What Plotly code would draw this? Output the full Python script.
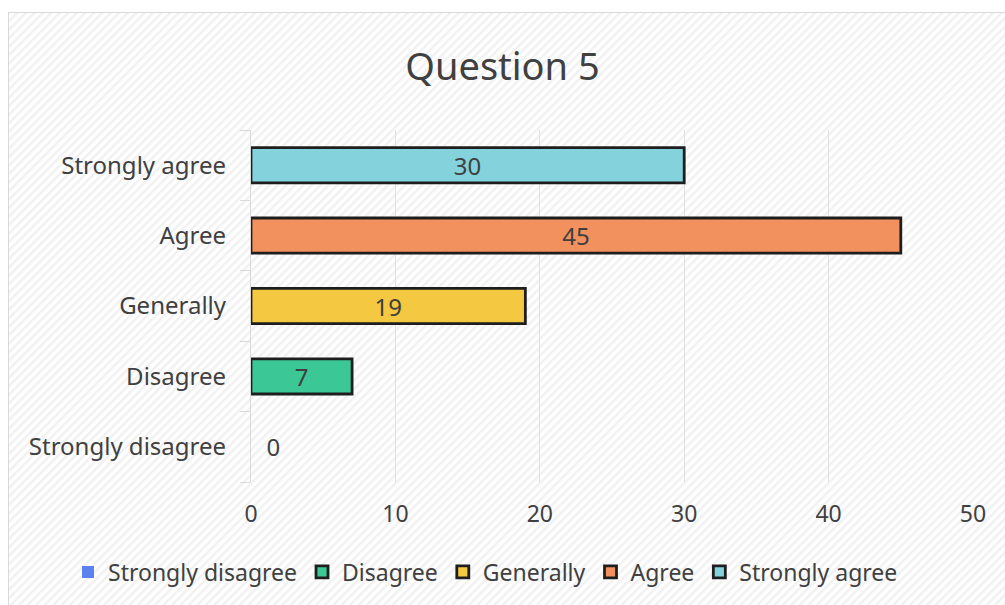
import base64
import plotly.graph_objects as go

categories = ["Strongly disagree", "Disagree", "Generally", "Agree", "Strongly agree"]
values = [0, 7, 19, 45, 30]
colors = ["#5b82ee", "#3cc896", "#f5c842", "#f2915e", "#84d3dc"]
x_ticks = [0, 10, 20, 30, 40, 50]
title_text = "Question 5"

FONT = "Noto Sans"
TXT = "#404040"

W, H = 1005, 605
L, R, T, B = 251, 973, 130, 482
pw, ph = R - L, B - T

def px2x(px):
    return (px - L) / pw

def py2y(py):
    return (B - py) / ph

fig = go.Figure()
for cat, val, col in zip(categories, values, colors):
    fig.add_trace(go.Bar(
        y=[cat], x=[val], name=cat, orientation="h", width=0.5,
        marker=dict(color=col, line=dict(color="#1e1e1e", width=2.8 if val > 0 else 0)),
        texttemplate="%{x}" if val > 0 else "\u00a0\u00a0%{x}",
        textposition="inside" if val > 0 else "outside",
        insidetextanchor="middle", textangle=0,
        textfont=dict(family=FONT, size=24, color=TXT),
        outsidetextfont=dict(family=FONT, size=24, color=TXT),
        cliponaxis=False,
    ))

# hatched background as inline svg
fx0, fy0, fx1, fy1 = 8, 12, W, H
fw, fh = fx1 - fx0, fy1 - fy0
svg = f'''<svg xmlns="http://www.w3.org/2000/svg" width="{fw}" height="{fh}" viewBox="0 0 {fw} {fh}" preserveAspectRatio="none">
<defs><pattern id="p" width="6" height="6" patternUnits="userSpaceOnUse" patternTransform="rotate(45)">
<rect width="6" height="6" fill="#ffffff"/><rect width="2.5" height="6" fill="#f1f1f1"/></pattern></defs>
<rect width="{fw}" height="{fh}" fill="url(#p)"/></svg>'''
src = "data:image/svg+xml;base64," + base64.b64encode(svg.encode()).decode()

fig.add_layout_image(dict(
    source=src, xref="paper", yref="paper",
    x=px2x(fx0), y=py2y(fy0), sizex=fw / pw, sizey=fh / ph,
    xanchor="left", yanchor="top", sizing="stretch", layer="below",
))
fig.add_shape(type="rect", xref="paper", yref="paper",
              x0=px2x(fx0 + 0.5), y0=py2y(fy1 + 5), x1=px2x(fx1 + 5), y1=py2y(fy0 + 0.5),
              line=dict(color="#d9d9d9", width=1), layer="below")

fig.update_layout(
    width=W, height=H,
    margin=dict(l=L, r=W - R, t=T, b=H - B, autoexpand=False),
    paper_bgcolor="#ffffff", plot_bgcolor="rgba(0,0,0,0)",
    barmode="overlay",
    uniformtext=dict(minsize=24, mode="show"),
    title=dict(text=title_text, x=0.5, xref="container", xanchor="center",
               y=1 - 67 / H, yref="container", yanchor="middle",
               font=dict(family=FONT, size=38, color=TXT)),
    showlegend=True,
    legend=dict(orientation="h", x=px2x(68), xref="paper", xanchor="left",
                y=py2y(572), yref="paper", yanchor="middle",
                font=dict(family=FONT, size=23, color=TXT),
                bgcolor="rgba(0,0,0,0)", traceorder="normal", itemwidth=30),
    xaxis=dict(range=[0, 50], tickvals=x_ticks, ticktext=[str(v) for v in x_ticks],
               showgrid=True, gridcolor="#e0e0e0", gridwidth=1.3, zeroline=False,
               showline=False, ticks="", ticklabelstandoff=16,
               tickfont=dict(family=FONT, size=23, color=TXT)),
    yaxis=dict(categoryorder="array", categoryarray=categories,
               showline=True, linecolor="#d9d9d9", linewidth=1.3,
               ticks="outside", tickson="boundaries", ticklen=10, tickcolor="#d9d9d9",
               showgrid=False, ticklabelstandoff=19,
               tickfont=dict(family=FONT, size=24, color=TXT)),
)

fig.write_html("out.html")
